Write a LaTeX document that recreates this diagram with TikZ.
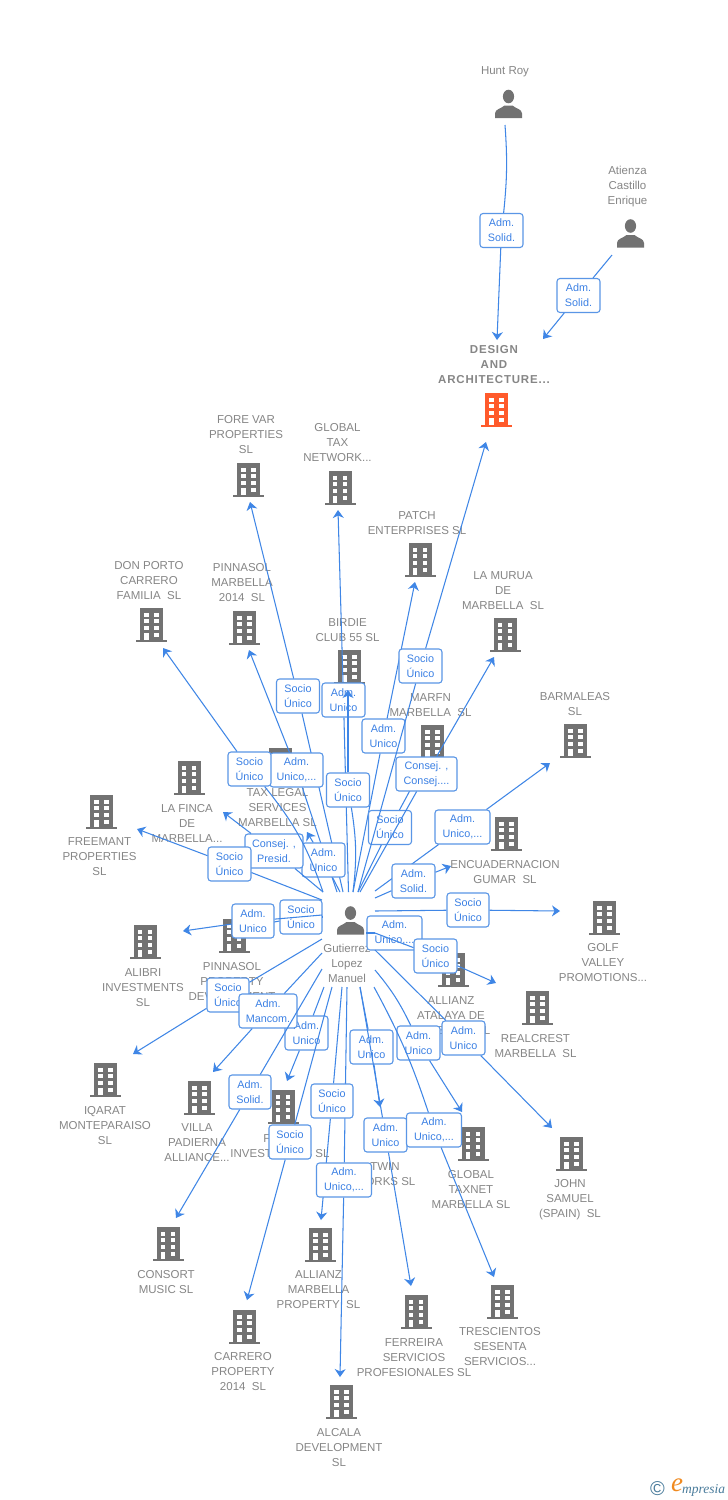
\documentclass[tikz,border=0pt]{standalone}
\usepackage{fontspec}
\setmainfont{Liberation Sans}
\newfontfamily\logofont{Liberation Serif}
\usetikzlibrary{arrows.meta}
\pgfdeclarelayer{front}
\pgfsetlayers{main,front}
\definecolor{iconcol}{HTML}{727272}
\definecolor{namecol}{HTML}{868686}
\definecolor{linkcol}{HTML}{3F86E6}
\definecolor{framecol}{HTML}{5A96E6}
\definecolor{tagcol}{HTML}{3B80E4}
\definecolor{hotcol}{HTML}{FF5A2B}
\definecolor{logoblue}{HTML}{4A7C9C}
\definecolor{logoorange}{HTML}{F08A20}
\tikzset{
  pics/bldg/.style={code={
    \fill[#1] (-11.5,-17) rectangle (11.5,15);
    \fill[#1] (-15.5,15) rectangle (15.5,17);
    \foreach \r in {-12.5,-6,1}{
      \fill[white] (-7.3,\r) rectangle (-2.8,\r+4.4);
      \fill[white] (2.6,\r) rectangle (7.2,\r+4.4);
    }
    \fill[white] (2.6,7.5) rectangle (7.2,12);
    \fill[white] (-7.3,7.5) rectangle (-2.8,15);
  }},
  pics/bldg/.default=iconcol,
  pics/pers/.style={code={
    \fill[iconcol] (0,-7.5) ellipse (5.6 and 6.8);
    \fill[iconcol] (-13.5,14) -- (-13.5,9.5) .. controls (-13.5,5) and (-7,4.5) .. (-4,1.5)
      -- (4,1.5) .. controls (7,4.5) and (13.5,5) .. (13.5,9.5) -- (13.5,14) -- cycle;
  }},
  firmtext/.style={text=namecol,align=center,inner sep=0pt,yshift=-1pt,
    font=\fontsize{11.5}{15}\selectfont},
  hottext/.style={firmtext,font=\fontsize{11.5}{15}\selectfont\bfseries\addfontfeature{LetterSpace=7}},
  tagbox/.style={draw=framecol,line width=1.1pt,fill=white,rounded corners=3pt,
    minimum height=34pt,inner sep=0pt,align=center,text=tagcol,
    font=\fontsize{10.8}{15}\selectfont},
  conn/.style={draw=linkcol,line width=1.05pt},
  connend/.style={conn,-{Stealth[length=8pt,width=11pt,inset=2.5pt]}},
}
% #1 name, #2,#3 icon, #4,#5 text, #6 text
\newcommand\Firm[6]{%
  \pic at (#2,#3) {bldg};
  \node[firmtext] (#1) at (#4,#5) {#6};}
% [#1 bend of first leg] #2 id, #3 width, #4 tag centre, #5 tag text, #6 start, #7 end
\newcommand\Link[7][]{%
  \coordinate (#2s) at (#6);
  \coordinate (#2t) at (#7);
  \node[tagbox,minimum width=#3pt] (#2) at (#4) {#5};
  \draw[conn] (#2s) to[#1] (#2);
  \draw[connend] (#2) -- (#2t);}
\begin{document}
\begin{tikzpicture}[x=1pt,y=-1pt]
\useasboundingbox (0,0) rectangle (728,1500);
\fill[white] (0,0) rectangle (728,1500);
% people
\pic at (508.5,104) {pers};
\node[firmtext] (hunt) at (505,71) {Hunt Roy};
\pic at (630.5,233.5) {pers};
\node[firmtext] (atienza) at (627.5,186) {Atienza\\Castillo\\Enrique};
\pic at (350.5,920.5) {pers};
\node[firmtext] (gutierrez) at (347,962) {Gutierrez\\Lopez\\Manuel};
% main company
\pic at (496.5,410) {bldg=hotcol};
\node[hottext] (design) at (494,364) {DESIGN\\AND\\ARCHITECTURE...};
% companies
\Firm{forevar}{248.5}{480}{246}{434}{FORE VAR\\PROPERTIES\\SL}
\Firm{globaltax}{340}{488}{337.5}{442}{GLOBAL\\TAX\\NETWORK...}
\Firm{patch}{420}{560}{417}{522}{PATCH\\ENTERPRISES SL}
\Firm{murua}{505}{635}{503}{590}{LA MURUA\\DE\\MARBELLA\ \ SL}
\Firm{donporto}{151.5}{625}{149}{580}{DON PORTO\\CARRERO\\FAMILIA\ \ SL}
\Firm{pinnasolm}{244.5}{628}{242}{582}{PINNASOL\\MARBELLA\\2014\ \ SL}
\Firm{birdie}{349.5}{667}{347.5}{629}{BIRDIE\\CLUB 55 SL}
\Firm{marfn}{432.5}{742}{430.5}{704}{MARFN\\MARBELLA\ \ SL}
\Firm{barmaleas}{575.5}{741}{575}{703}{BARMALEAS\\SL}
\Firm{taxlegal}{280}{765}{277.5}{807}{TAX LEGAL\\SERVICES\\MARBELLA SL}
\Firm{lafinca}{189}{778}{187}{822}{LA FINCA\\DE\\MARBELLA...}
\Firm{freemant}{101.5}{812}{99.5}{856}{FREEMANT\\PROPERTIES\\SL}
\Firm{encuad}{506.5}{834}{505}{871}{ENCUADERNACION\\GUMAR\ \ SL}
\Firm{golf}{604.5}{918}{603}{962}{GOLF\\VALLEY\\PROMOTIONS...}
\Firm{alibri}{145}{942}{143}{987}{ALIBRI\\INVESTMENTS\\SL}
\Firm{pinnasolp}{234}{936}{232}{981}{PINNASOL\\PROPERTY\\DEVELOPMENT}
\Firm{atalaya}{453}{970}{451}{1015}{ALLIANZ\\ATALAYA DE\\MARBELLA SL}
\Firm{realcrest}{537.5}{1008}{535.5}{1045}{REALCREST\\MARBELLA\ \ SL}
\Firm{iqarat}{105.5}{1080}{105}{1125}{IQARAT\\MONTEPARAISO\\SL}
\Firm{villa}{199.5}{1098}{197}{1142}{VILLA\\PADIERNA\\ALLIANCE...}
\Firm{first}{283}{1107}{280}{1145}{FIRST\\INVESTMENTS SL}
\Firm{twin}{385.5}{1135}{385}{1173}{TWIN\\WORKS SL}
\Firm{taxnet}{473}{1144}{471}{1189}{GLOBAL\\TAXNET\\MARBELLA SL}
\Firm{john}{571.5}{1154}{570}{1199}{JOHN\\SAMUEL\\(SPAIN)\ \ SL}
\Firm{consort}{168}{1244}{166}{1281}{CONSORT\\MUSIC SL}
\Firm{alliancem}{320.5}{1245}{318.5}{1289}{ALLIANZ\\MARBELLA\\PROPERTY\ \ SL}
\Firm{trescientos}{502.5}{1302}{500}{1346}{TRESCIENTOS\\SESENTA\\SERVICIOS...}
\Firm{ferreira}{416}{1312}{414}{1357}{FERREIRA\\SERVICIOS\\PROFESIONALES SL}
\Firm{carrero}{244.5}{1327}{243}{1371}{CARRERO\\PROPERTY\\2014\ \ SL}
\Firm{alcala}{341.5}{1402}{339}{1447}{ALCALA\\DEVELOPMENT\\SL}
% links
\Link[bend left=5]{lHunt}{43}{501.5,230.5}{Adm.\\Solid.}{505,125}{497,340}
\Link{lAtienza}{43}{578.5,295.5}{Adm.\\Solid.}{612,255}{543,339}
\Link{lGlobal}{43}{343.5,700}{Adm.\\Unico}{348.5,892}{338,510}
\Link[bend right=8]{lBirdie}{43}{348,790}{Socio\\Único}{353,892}{348,690}
\Link{lFore}{43}{298,696}{Socio\\Único}{343,892}{250,502}
\Link{lPatch}{43}{383.5,736}{Adm.\\Unico}{353,892}{415,582}
\Link{lMarfn}{43}{390,827.5}{Socio\\Único}{358,892}{421,770}
\Link{lDesign}{43}{420.5,666}{Socio\\Único}{358,892}{486,442}
\Link{lMurua}{61}{426.5,774}{Consej. ,\\Consej....}{360,892}{494,657}
\Link{lBarm}{55}{462.5,827}{Adm.\\Unico,...}{375,891}{550,763}
\Link{lEncuad}{43}{413.5,881}{Adm.\\Solid.}{375,898}{451,866}
\Link{lGolf}{42}{468,910}{Socio\\Único}{375,911}{560,911}
\Link{lAtalaya}{55}{394.5,933}{Adm.\\Unico,...}{375,933}{433,955}
\Link{lRealcrest}{43}{435.5,956}{Socio\\Único}{375,933}{496,983}
\Link{lJohn}{43}{463.5,1038}{Adm.\\Unico}{375,950}{552,1128}
\Link[bend left=7]{lTaxnet}{43}{418.5,1043}{Adm.\\Unico}{375,970}{462,1112}
\Link{lTwin}{43}{371.5,1047}{Adm.\\Unico}{360,987}{380,1107}
\Link{lFerreira}{43}{385.5,1135}{Adm.\\Unico}{360,987}{411,1286}
\Link[bend left=5]{lTres}{55}{434,1130}{Adm.\\Unico,...}{374,987}{494,1277}
% this tag lies over the next link's line, and the next tag over this link's line
\begin{pgfonlayer}{front}
\node[tagbox,minimum width=42pt] (lAllianz) at (332,1101) {Socio\\Único};
\end{pgfonlayer}
\coordinate (lAllianzs) at (342,987);
\coordinate (lAllianzt) at (321,1220);
\draw[conn] (lAllianzs) -- (lAllianz);
\draw[connend] (lAllianz) -- (lAllianzt);
\Link{lAlcala}{55}{344,1180}{Adm.\\Unico,...}{347,987}{340,1377}
\Link{lFirst}{43}{306.5,1033}{Adm.\\Unico}{324,987}{287,1081}
\Link{lIqarat}{42}{228,995}{Socio\\Único}{322,939}{133,1054}
\Link{lVilla}{58}{268,1011}{Adm.\\Mancom.}{322,953}{213,1072}
\Link{lConsort}{42}{250,1092}{Adm.\\Solid.}{322,969}{176,1218}
\Link{lCarrero}{42}{290,1142}{Socio\\Único}{332,987}{247,1300}
\Link{lPinnaP}{42}{301,917}{Socio\\Único}{322,917}{258,925}
\Link{lAlibri}{42}{253,921}{Adm.\\Unico}{322,915}{183,931}
\Link{lPinnaM}{53}{296.5,770}{Adm.\\Unico,...}{337,892}{249,650}
\Link{lTax}{43}{323.5,860}{Adm.\\Unico}{340,892}{307,832}
\Link{lFinca}{58}{274,851}{Consej. ,\\Presid.}{323,892}{223,812}
\Link[bend right=10]{lDon}{43}{249.5,769}{Socio\\Único}{323,892}{163,648}
\Link{lFreemant}{43}{229.5,864}{Socio\\Único}{322,900}{137,829}
% logo
\node[inner sep=0pt,text=logoblue,font=\fontsize{20}{20}\selectfont] (logoc) at (657.5,1488.5) {©};
\node[inner sep=0pt,text=logoorange,font=\logofont\itshape\fontsize{27}{27}\selectfont] (logoe) at (677,1485) {e};
\node[inner sep=0pt,text=logoblue,font=\logofont\itshape\fontsize{13.5}{14}\selectfont] (logot) at (703.5,1490) {mpresia};
\end{tikzpicture}
\end{document}
